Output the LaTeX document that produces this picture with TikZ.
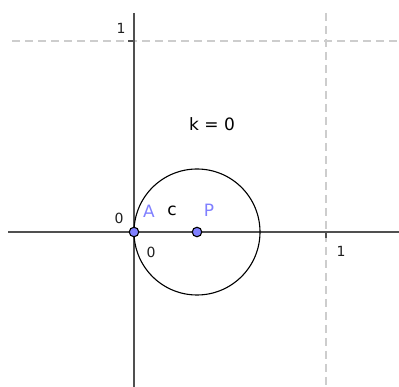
\documentclass[tikz,border=0pt]{standalone}
\usepackage{fontspec}
\setmainfont{DejaVu Sans}
\begin{document}
\begin{tikzpicture}[x=1pt,y=-1pt,
  axis/.style={line width=1.9pt,draw={rgb,255:red,80;green,80;blue,80}},
  gridline/.style={line width=1.2pt,draw={rgb,255:red,205;green,205;blue,205},dash pattern=on 8pt off 5pt},
  ticklbl/.style={font=\fontsize{14}{14}\selectfont,text={rgb,255:red,30;green,30;blue,30},inner sep=0pt},
  ptlbl/.style={font=\fontsize{17}{17}\selectfont,text={rgb,255:red,128;green,128;blue,255},inner sep=0pt},
  pointnode/.style={circle,draw=black,line width=1.1pt,fill={rgb,255:red,128;green,128;blue,255},minimum size=9.5pt,inner sep=0pt}
]
\useasboundingbox (0,0) rectangle (399,387);
% grid
\coordinate (hgL) at (12,41); \coordinate (hgR) at (399,41);
\coordinate (vgT) at (326,13); \coordinate (vgB) at (326,387);
\draw[gridline] (hgL) -- (hgR);
\draw[gridline] (vgT) -- (vgB);
% axes
\coordinate (xL) at (8,232); \coordinate (xR) at (399,232);
\coordinate (yT) at (134,13); \coordinate (yB) at (134,387);
\draw[axis] (xL) -- (xR);
\draw[axis] (yT) -- (yB);
% ticks
\coordinate (ty1) at (128,41); \coordinate (ty2) at (134,41);
\coordinate (tx1) at (326,232); \coordinate (tx2) at (326,238);
\draw[axis,line width=1.3pt] (ty1) -- (ty2);
\draw[axis,line width=1.3pt] (tx1) -- (tx2);
% tick labels
\node[ticklbl] (l1y) at (121,28) {1};
\node[ticklbl] (l1x) at (341,251) {1};
\node[ticklbl] (l0y) at (119,218) {0};
\node[ticklbl] (l0x) at (151,252) {0};
% circle
\coordinate (Pc) at (197,232);
\draw[line width=1.1pt] (Pc) circle (63);
% points
\node[pointnode] (A) at (134,232) {};
\node[pointnode] (P) at (197,232) {};
\node[ptlbl] (Alabel) at (149,211) {A};
\node[ptlbl] (Plabel) at (209,210) {P};
\node[font=\fontsize{17}{17}\selectfont,inner sep=0pt] (clabel) at (172,211) {c};
\node[font=\fontsize{17}{17}\selectfont,inner sep=0pt] (k) at (212,124) {k = 0};
\end{tikzpicture}
\end{document}
